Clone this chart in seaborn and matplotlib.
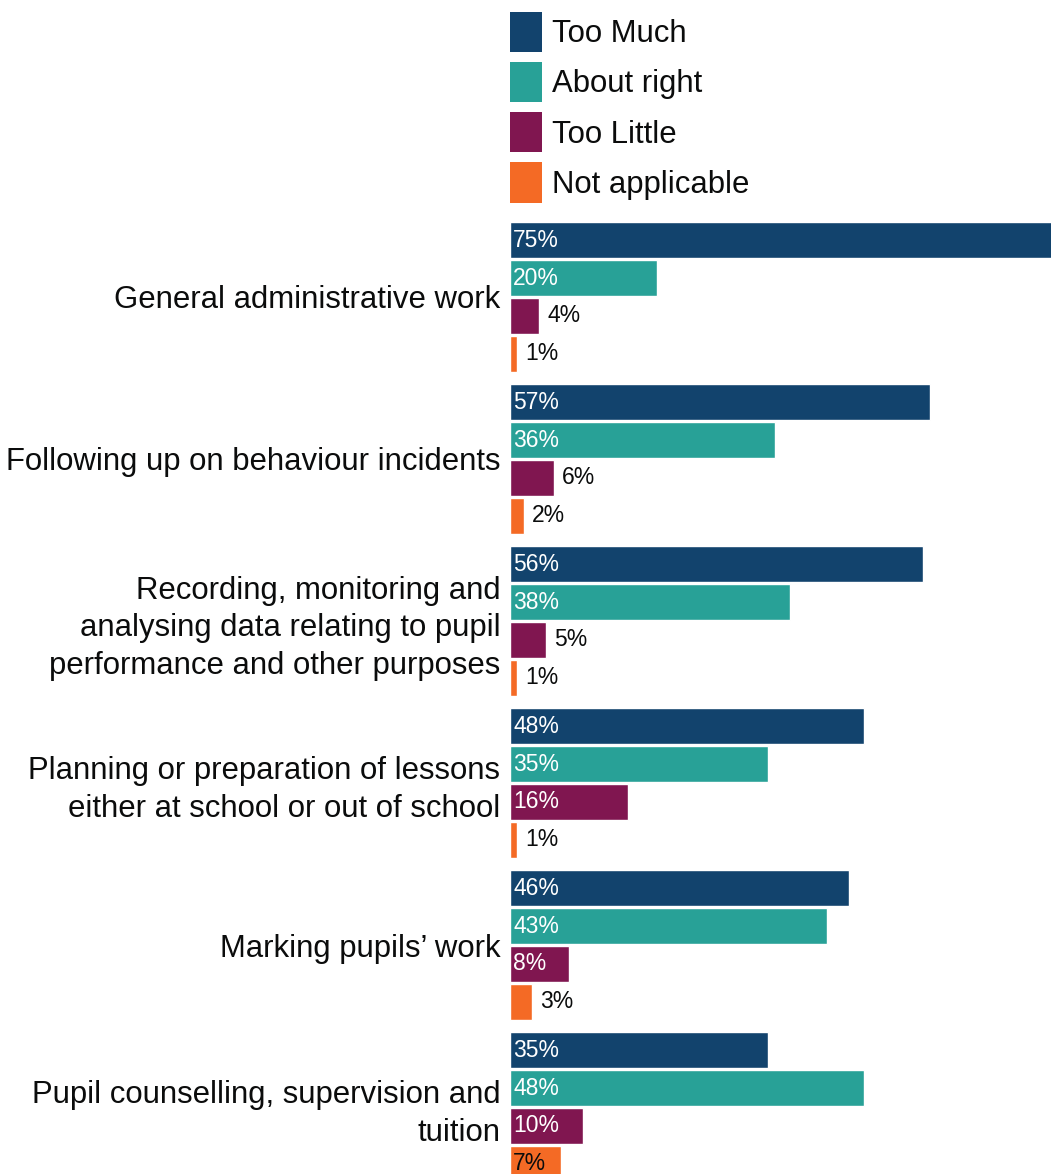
import matplotlib
matplotlib.use("Agg")
import matplotlib.pyplot as plt
from matplotlib.patches import Patch
import pandas as pd
import seaborn as sns

# Survey tasks and the share of respondents giving each answer (%)
tasks = [
    "General administrative work",
    "Following up on behaviour incidents",
    "Recording, monitoring and\nanalysing data relating to pupil\nperformance and other purposes",
    "Planning or preparation of lessons\neither at school or out of school",
    "Marking pupils\u2019 work",
    "Pupil counselling, supervision and\ntuition",
]
responses = ["Too Much", "About right", "Too Little", "Not applicable"]
too_much = [75, 57, 56, 48, 46, 35]
about_right = [20, 36, 38, 35, 43, 48]
too_little = [4, 6, 5, 16, 8, 10]
not_applicable = [1, 2, 1, 1, 3, 7]
colors = ["#12436D", "#28A197", "#801650", "#F46A25"]

series = [too_much, about_right, too_little, not_applicable]
rows = []
for resp, vals in zip(responses, series):
    for task, v in zip(tasks, vals):
        rows.append({"task": task, "response": resp, "pct": v})
df = pd.DataFrame(rows)

sns.set_theme(style="white")
plt.rcParams["font.family"] = ["Liberation Sans", "DejaVu Sans"]

W, H = 1051, 1174
fig = plt.figure(figsize=(W / 100, H / 100), dpi=100)
ax_left, ax_top = 509.5, 211
ax = fig.add_axes([ax_left / W, 0, (W - ax_left) / W, (H - ax_top) / H])

sns.barplot(
    data=df, y="task", x="pct", hue="response", order=tasks,
    hue_order=responses, palette=colors, orient="h",
    width=0.938, gap=0.053, saturation=1, legend=False, ax=ax,
    errorbar=None,
)

# group centres sit 162 px apart; the first one at y = 297 px
ax.set_xlim(0, (W - ax_left) / 7.38)
ax.set_ylim((H - 297) / 162, -(297 - ax_top) / 162)
for s in ax.spines.values():
    s.set_visible(False)
ax.set_xticks([])
ax.set_xlabel("")
ax.set_ylabel("")
ax.tick_params(axis="y", length=0, pad=6.5, labelsize=22.4, labelcolor="#0b0c0c")
for lbl in ax.get_yticklabels():
    lbl.set_horizontalalignment("right")
    lbl.set_multialignment("right")
    lbl.set_linespacing(1.32)

# Value labels: inside the bar for wider bars, just past the end otherwise
for cont, col in zip(ax.containers, colors):
    for bar in cont:
        v = bar.get_width()
        yc = bar.get_y() + bar.get_height() / 2
        if v >= 7:
            tc = "#0b0c0c" if col == "#F46A25" else "white"
            ax.annotate(f"{v:.0f}%", (0, yc), xytext=(2.6, 0),
                        textcoords="offset points", va="center", ha="left",
                        fontsize=16.5, color=tc, annotation_clip=False)
        else:
            ax.annotate(f"{v:.0f}%", (v, yc), xytext=(5.8, 0),
                        textcoords="offset points", va="center", ha="left",
                        fontsize=16.5, color="#0b0c0c", annotation_clip=False)

handles = [Patch(facecolor=c, edgecolor="none") for c in colors]
fig.legend(
    handles, responses, loc="upper left",
    bbox_to_anchor=(510 / W, 1 - 12 / H), frameon=False,
    fontsize=22.4, handlelength=1.03, handleheight=1.61,
    handletextpad=0.32, labelspacing=0.32, borderpad=0, borderaxespad=0,
    labelcolor="#0b0c0c",
)

fig.savefig("out.png", dpi=100)
